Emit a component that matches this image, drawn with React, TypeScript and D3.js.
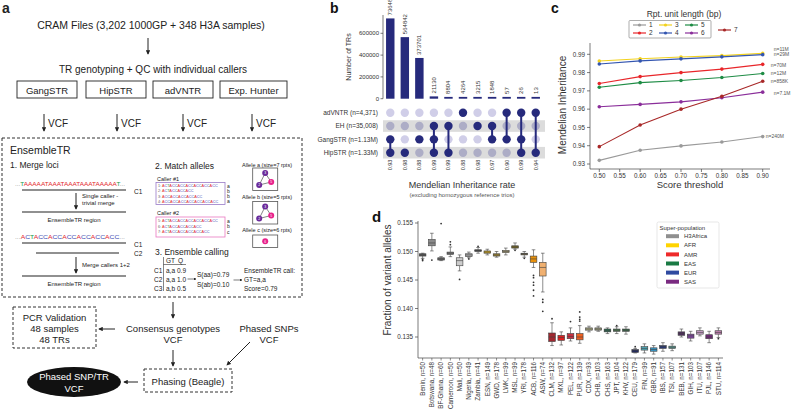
import React from 'react';
import * as d3 from 'd3';

const FONT = '"Liberation Sans", Arial, Helvetica, sans-serif';

// ---------- panel b: upset of callers ----------
const bCallers = ['adVNTR (n=4,371)', 'EH (n=35,008)', 'GangSTR (n=1.13M)', 'HipSTR (n=1.33M)'];
const bCounts = [736485, 564842, 373701, 21130, 8804, 4264, 3215, 1848, 57, 26, 13];
const bSets = [[2, 3], [3], [2], [1, 2, 3], [1, 3], [0], [1], [1, 2], [0, 2], [0, 2, 3], [0, 3]];
const bRates = ['0.93', '0.98', '0.88', '0.99', '0.99', '0.88', '0.98', '0.97', '0.90', '0.99', '0.94'];
const bYTicks = [0, 200000, 400000, 600000];

// ---------- panel c: MI vs score threshold ----------
const cThresholds = [0.5, 0.6, 0.7, 0.8, 0.9];
const cUnits = ['1', '2', '3', '4', '5', '6', '7'];
const cValues = [
  [0.932, 0.9375, 0.9399, 0.942, 0.945],
  [0.974, 0.9778, 0.98, 0.9819, 0.9845],
  [0.9863, 0.9876, 0.9885, 0.9893, 0.9905],
  [0.9847, 0.9864, 0.9875, 0.9886, 0.9898],
  [0.972, 0.9745, 0.9757, 0.9773, 0.9795],
  [0.9613, 0.9626, 0.964, 0.9662, 0.9693],
  [0.9395, 0.9513, 0.96, 0.967, 0.9753],
];
const cCounts = ['n=240M', 'n=70M', 'n=11M', 'n=29M', 'n=12M', 'n=7.1M', 'n=858K'];
const cXTicks = [0.5, 0.55, 0.6, 0.65, 0.7, 0.75, 0.8, 0.85, 0.9];
const cYTicks = [0.93, 0.94, 0.95, 0.96, 0.97, 0.98, 0.99];

// ---------- panel d: fraction of variant alleles ----------
const dPops = ['Benin', 'Botswana', 'BF-Ghana', 'Cameroon', 'Mali', 'Nigeria', 'Zambia', 'ESN', 'GWD', 'LWK', 'MSL',
  'YRI', 'ACB', 'ASW', 'CLM', 'MXL', 'PEL', 'PUR', 'CDX', 'CHB', 'CHS', 'JPT', 'KHV', 'CEU', 'FIN', 'GBR', 'IBS',
  'TSI', 'BEB', 'GIH', 'ITU', 'PJL', 'STU'];
const dSizes = [50, 48, 60, 50, 50, 49, 41, 149, 178, 99, 99, 178, 116, 74, 132, 97, 122, 139, 93, 103, 163, 104, 122,
  179, 99, 91, 157, 107, 131, 103, 107, 146, 114];
// [whisker low, q1, median, q3, whisker high]
const dStats = [
  [0.1488, 0.1492, 0.1494, 0.1496, 0.1497],
  [0.1501, 0.151, 0.1515, 0.1521, 0.1532],
  [0.1484, 0.1485, 0.1487, 0.1489, 0.1491],
  [0.1491, 0.1495, 0.1497, 0.1499, 0.1508],
  [0.1466, 0.1475, 0.1484, 0.1489, 0.1494],
  [0.1489, 0.1491, 0.1494, 0.1496, 0.1499],
  [0.1497, 0.15, 0.1502, 0.1503, 0.1507],
  [0.1494, 0.1497, 0.1499, 0.1501, 0.1504],
  [0.149, 0.1492, 0.1494, 0.1496, 0.15],
  [0.1494, 0.1498, 0.15, 0.1502, 0.1506],
  [0.1504, 0.1506, 0.1508, 0.151, 0.1515],
  [0.149, 0.1494, 0.1496, 0.1497, 0.15],
  [0.1472, 0.1481, 0.1487, 0.1492, 0.1503],
  [0.1429, 0.1457, 0.1472, 0.1481, 0.1497],
  [0.1335, 0.1342, 0.135, 0.1357, 0.1375],
  [0.1336, 0.1344, 0.1349, 0.1353, 0.1359],
  [0.1343, 0.1347, 0.1351, 0.1356, 0.1366],
  [0.1339, 0.1345, 0.135, 0.1356, 0.137],
  [0.1359, 0.1362, 0.1364, 0.1366, 0.1369],
  [0.136, 0.1362, 0.1364, 0.1366, 0.1369],
  [0.1356, 0.1359, 0.1361, 0.1364, 0.1366],
  [0.1356, 0.136, 0.1362, 0.1364, 0.1368],
  [0.1355, 0.136, 0.1362, 0.1364, 0.1368],
  [0.1322, 0.1323, 0.1326, 0.1328, 0.133],
  [0.1322, 0.1327, 0.133, 0.1333, 0.1338],
  [0.132, 0.1325, 0.1328, 0.1331, 0.1335],
  [0.1325, 0.133, 0.1333, 0.1335, 0.134],
  [0.1326, 0.133, 0.1332, 0.1334, 0.1338],
  [0.135, 0.1353, 0.1356, 0.1359, 0.1364],
  [0.1343, 0.1348, 0.1352, 0.1355, 0.136],
  [0.1352, 0.1355, 0.1358, 0.1361, 0.1366],
  [0.134, 0.1347, 0.135, 0.1354, 0.136],
  [0.1349, 0.1355, 0.1358, 0.1361, 0.1366],
];
const dOutliers = [
  [0.1484, 0.1486], [0.1485], [0.1549], [0.1512, 0.1517], [0.1451], [0.1487], [0.1509], [], [], [], [0.1502],
  [0.1488], [0.1458, 0.1454, 0.1446, 0.1441, 0.1432, 0.1422], [0.1416, 0.1411, 0.1395], [0.1382], [], [0.1377],
  [0.1378, 0.1381, 0.1385, 0.1394], [], [], [], [0.137], [], [0.1333], [], [], [], [], [], [], [], [], [0.1347],
];
const dSuper = ['H3Africa', 'AFR', 'AMR', 'EAS', 'EUR', 'SAS'];
const dYTicks = [0.135, 0.14, 0.145, 0.15, 0.155];

// styles
const cColors = ['#9a9a9a', '#e8262a', '#f2d21e', '#3355b0', '#1e8c45', '#8a2e9a', '#a82828'];
const dSuperColors = ['#8f8f8f', '#ffd400', '#ee2a2a', '#1a7a44', '#2f4aa0', '#7a2a80'];
const dColors = ['#5a5a5a', '#8a8a8a', '#6a6a6a', '#7a7a7a', '#cccccc', '#ababab', '#4a4a4a',
  '#d0a820', '#a88c30', '#c8b880', '#7a6a20', '#6a6040', '#e8900a', '#f0b070',
  '#a02830', '#e02020', '#c83040', '#f06020',
  '#b4b488', '#a4a484', '#2a6a50', '#4a7a50', '#3a6a4a',
  '#202860', '#50a8b8', '#3898c8', '#283878', '#58a098',
  '#503060', '#8048a0', '#c8a0c8', '#702878', '#c080b0'];
const NAVY = '#262a7c';

const seqColor: Record<string, string> = { A: '#e3262b', C: '#3c4cb4', T: '#1a9a48', '.': '#888' };

const Seq = ({ x, y, s, size, len }: { x: number; y: number; s: string; size: number; len: number }) => (
  <text x={x} y={y} fontSize={size} textLength={len} lengthAdjust="spacingAndGlyphs">
    {s.split('').map((ch, i) => (
      <tspan key={i} fill={seqColor[ch] ?? '#777'}>{ch}</tspan>
    ))}
  </text>
);

const Arrow = ({ x1, y1, x2, y2 }: { x1: number; y1: number; x2: number; y2: number }) => (
  <line x1={x1} y1={y1} x2={x2} y2={y2} stroke="#222" strokeWidth={1} markerEnd="url(#ah)" />
);

const AlleleGraph = ({ x, y, full }: { x: number; y: number; full: boolean }) => {
  const nodes = [
    { dx: 12.5, dy: 5, c: '#6a2a9a', t: '3' },
    { dx: 6.5, dy: 17, c: '#6a2a9a', t: '2' },
    { dx: 18.5, dy: 14, c: '#e8208a', t: '5' },
  ];
  if (!full) {
    return (
      <g>
        <rect x={x} y={y} width={25} height={12.5} fill="#fff" stroke="#555" strokeWidth={0.8} />
        <circle cx={x + 12.5} cy={y + 6.3} r={3} fill="#e8208a" />
        <text x={x + 12.5} y={y + 7.5} fontSize={3.5} fill="#fff" textAnchor="middle">6</text>
      </g>
    );
  }
  return (
    <g>
      <rect x={x} y={y} width={25} height={22.5} fill="#fff" stroke="#555" strokeWidth={0.8} />
      {[[0, 1], [0, 2], [1, 2]].map(([a, b], i) => (
        <line key={i} x1={x + nodes[a].dx} y1={y + nodes[a].dy} x2={x + nodes[b].dx} y2={y + nodes[b].dy}
          stroke="#333" strokeWidth={0.6} />
      ))}
      {nodes.map((n, i) => (
        <g key={i}>
          <circle cx={x + n.dx} cy={y + n.dy} r={3} fill={n.c} />
          <text x={x + n.dx} y={y + n.dy + 1.2} fontSize={3.5} fill="#fff" textAnchor="middle">{n.t}</text>
        </g>
      ))}
    </g>
  );
};

const PanelA = () => {
  const callers = [
    { name: 'GangSTR', x0: 17, x1: 77 },
    { name: 'HipSTR', x0: 86, x1: 146 },
    { name: 'adVNTR', x0: 153, x1: 213 },
    { name: 'Exp. Hunter', x0: 220, x1: 287 },
  ];
  const vcfX = [44, 117, 183, 252];
  const caller1 = [['1: ', 'ACTACCACCACCACCACCACC', 'a'], ['2: ', 'ACTACCACCACC', 'b'], ['3: ', 'ACCACCACCACCACC', 'b'],
    ['4: ', 'ACCACCACCACCACCACCACC', 'a']];
  const caller2 = [['5: ', 'ACTACCACCACCACCACCACC', 'a'], ['6: ', 'ACTACCACCACCACC', 'b'], ['7: ', 'ACTACCACCACCACCACC', 'c']];
  return (
    <g fill="#222">
      <text x={2} y={13} fontSize={14} fontWeight="bold">a</text>
      <text x={151} y={29} fontSize={10.5} textAnchor="middle">CRAM Files (3,202 1000GP + 348 H3A samples)</text>
      <Arrow x1={148} y1={38} x2={148} y2={54} />
      <text x={153} y={73} fontSize={10} textAnchor="middle">TR genotyping + QC with individual callers</text>
      {callers.map(c => (
        <g key={c.name}>
          <rect x={c.x0} y={81} width={c.x1 - c.x0} height={17} fill="none" stroke="#222" strokeWidth={0.9} />
          <text x={(c.x0 + c.x1) / 2} y={93.5} fontSize={9.5} textAnchor="middle">{c.name}</text>
        </g>
      ))}
      {vcfX.map(x => (
        <g key={x}>
          <Arrow x1={x} y1={114} x2={x} y2={131} />
          <text x={x + 4} y={127} fontSize={10}>VCF</text>
        </g>
      ))}
      <rect x={2} y={138} width={300} height={159} fill="none" stroke="#333" strokeWidth={1} strokeDasharray="3,2" />
      <text x={10} y={154} fontSize={10.5}>EnsembleTR</text>
      <text x={10} y={168} fontSize={8.5}>1. Merge loci</text>
      <text x={15} y={186} fontSize={6.1} textLength={110} lengthAdjust="spacingAndGlyphs">
        <tspan fill="#888">...</tspan><tspan fill="#1a9a48">T</tspan>
        <tspan fill="#e3262b">AAAAATAAATAAATAAATAAAAA</tspan><tspan fill="#1a9a48">T</tspan><tspan fill="#888">...</tspan>
      </text>
      <line x1={22} y1={190} x2={126} y2={190} stroke="#222" strokeWidth={1.2} />
      <text x={134} y={194} fontSize={6.5}>C1</text>
      <Arrow x1={76} y1={193} x2={76} y2={209} />
      <text x={82} y={198} fontSize={6}>Single caller -</text>
      <text x={82} y={205} fontSize={6}>trivial merge</text>
      <line x1={22} y1={212} x2={126} y2={212} stroke="#222" strokeWidth={1.2} />
      <text x={74} y={222} fontSize={6} textAnchor="middle">EnsembleTR region</text>
      <Seq x={15} y={239} s="...ACTACCACCACCACCACCACC..." size={6.1} len={110} />
      <line x1={22} y1={243} x2={126} y2={243} stroke="#222" strokeWidth={1.2} />
      <text x={134} y={247} fontSize={6.5}>C1</text>
      <line x1={36} y1={253} x2={119} y2={253} stroke="#222" strokeWidth={1.2} />
      <text x={134} y={256} fontSize={6.5}>C2</text>
      <Arrow x1={76} y1={257} x2={76} y2={273} />
      <text x={82} y={267} fontSize={6}>Merge callers 1+2</text>
      <line x1={22} y1={276} x2={126} y2={276} stroke="#222" strokeWidth={1.2} />
      <text x={74} y={286} fontSize={6} textAnchor="middle">EnsembleTR region</text>

      <text x={155} y={169} fontSize={8.5}>2. Match alleles</text>
      <text x={157} y={181} fontSize={5.5}>Caller #1</text>
      <rect x={156} y={182.5} width={69} height={22} fill="#fff" stroke="#9a7ac8" strokeWidth={0.8} />
      {caller1.map((r, i) => (
        <g key={i}>
          <text x={158} y={187 + i * 5.3} fontSize={3.8}>
            <tspan fill="#666">{r[0]}</tspan>
            {r[1].split('').map((ch, j) => <tspan key={j} fill={seqColor[ch]}>{ch}</tspan>)}
          </text>
          <text x={227} y={187.5 + i * 5.3} fontSize={5}>{r[2]}</text>
        </g>
      ))}
      <text x={157} y={215} fontSize={5.5}>Caller #2</text>
      <rect x={156} y={217} width={69} height={20} fill="#fff" stroke="#e878c0" strokeWidth={0.8} />
      {caller2.map((r, i) => (
        <g key={i}>
          <text x={158} y={222 + i * 5.5} fontSize={3.8}>
            <tspan fill="#666">{r[0]}</tspan>
            {r[1].split('').map((ch, j) => <tspan key={j} fill={seqColor[ch]}>{ch}</tspan>)}
          </text>
          <text x={227} y={222.5 + i * 5.5} fontSize={5}>{r[2]}</text>
        </g>
      ))}
      <text x={267} y={166.5} fontSize={5.5} textAnchor="middle">Allele a (size=7 rpts)</text>
      <AlleleGraph x={252.7} y={168} full />
      <text x={267} y={199} fontSize={5.5} textAnchor="middle">Allele b (size=5 rpts)</text>
      <AlleleGraph x={252.7} y={201.5} full />
      <text x={267} y={232} fontSize={5.5} textAnchor="middle">Allele c (size=6 rpts)</text>
      <AlleleGraph x={252.7} y={235} full={false} />

      <text x={155} y={255} fontSize={8.5}>3. Ensemble calling</text>
      <g fontSize={6.5}>
        <text x={166} y={263}>GT</text>
        <text x={178} y={263}>Q</text>
        <line x1={163.5} y1={264.5} x2={186} y2={264.5} stroke="#333" strokeWidth={0.6} />
        <line x1={163.5} y1={257} x2={163.5} y2={291} stroke="#333" strokeWidth={0.6} />
        {[['C1', 'a,a', '0.9'], ['C2', 'a,a', '1.0'], ['C3', 'a,b', '0.5']].map((r, i) => (
          <g key={i}>
            <text x={154} y={272.5 + i * 9}>{r[0]}</text>
            <text x={166} y={272.5 + i * 9}>{r[1]}</text>
            <text x={177} y={272.5 + i * 9}>{r[2]}</text>
          </g>
        ))}
        <line x1={187.5} y1={279} x2={196} y2={279} stroke="#222" strokeWidth={0.6} markerEnd="url(#ah)" />
        <text x={197} y={277}>S(aa)=0.79</text>
        <text x={197} y={286.5}>S(ab)=0.10</text>
        <line x1={233.5} y1={280} x2={242} y2={280} stroke="#222" strokeWidth={0.6} markerEnd="url(#ah)" />
        <text x={244} y={272.5}>EnsembleTR call:</text>
        <text x={244} y={281.5}>GT=a,a</text>
        <text x={244} y={290.5}>Score=0.79</text>
      </g>

      <Arrow x1={173} y1={302} x2={173} y2={318} />
      <rect x={13} y={307} width={83} height={41} fill="none" stroke="#333" strokeWidth={1} strokeDasharray="3,2" />
      <text x={54.5} y={320.5} fontSize={9.5} textAnchor="middle">PCR Validation</text>
      <text x={54.5} y={331.5} fontSize={9.5} textAnchor="middle">48 samples</text>
      <text x={54.5} y={342.5} fontSize={9.5} textAnchor="middle">48 TRs</text>
      <Arrow x1={115} y1={329} x2={99} y2={329} />
      <text x={173} y={331.5} fontSize={9.5} textAnchor="middle">Consensus genotypes</text>
      <text x={173} y={343} fontSize={9.5} textAnchor="middle">VCF</text>
      <text x={269} y={331.5} fontSize={9.5} textAnchor="middle">Phased SNPs</text>
      <text x={269} y={343} fontSize={9.5} textAnchor="middle">VCF</text>
      <Arrow x1={173} y1={350} x2={173} y2={366} />
      <Arrow x1={250} y1={342} x2={227} y2={365} />
      <rect x={144} y={369} width={88} height={23} fill="none" stroke="#333" strokeWidth={1} strokeDasharray="3,2" />
      <text x={188} y={384.5} fontSize={9.5} textAnchor="middle">Phasing (Beagle)</text>
      <Arrow x1={138} y1={382} x2={124} y2={382} />
      <ellipse cx={74} cy={382} rx={47} ry={15} fill="#111" />
      <text x={74} y={380} fontSize={9.5} fill="#fff" textAnchor="middle">Phased SNP/TR</text>
      <text x={74} y={391.5} fontSize={9.5} fill="#fff" textAnchor="middle">VCF</text>
    </g>
  );
};

const PanelB = () => {
  const x = d3.scaleBand<number>().domain(d3.range(bCounts.length)).range([383, 543]).paddingInner(0.42).paddingOuter(0.21);
  const y = d3.scaleLinear().domain([0, 600000]).range([98.7, 33.3]);
  const row = d3.scalePoint<number>().domain(d3.range(bCallers.length)).range([112.7, 152.7]);
  const bw = x.bandwidth();
  const cx = (i: number) => (x(i) ?? 0) + bw / 2;
  return (
    <g fill="#333">
      <text x={330} y={13} fontSize={14} fontWeight="bold" fill="#111">b</text>
      <line x1={383} x2={383} y1={15} y2={y(0)} stroke="#444" strokeWidth={0.7} />
      {bYTicks.map(t => (
        <g key={t}>
          <line x1={380.5} x2={383} y1={y(t)} y2={y(t)} stroke="#444" strokeWidth={0.7} />
          <text x={379} y={y(t)} dy="0.35em" fontSize={6} textAnchor="end">{t}</text>
        </g>
      ))}
      <text transform={`translate(351,57) rotate(-90)`} fontSize={7} textAnchor="middle">Number of TRs</text>
      {bCounts.map((v, i) => (
        <g key={i}>
          <rect x={x(i)} y={Math.min(y(v), y(0) - 1.8)} width={bw} height={Math.max(y(0) - y(v), 1.8)} fill={NAVY} />
          <text transform={`translate(${cx(i) + 2},${Math.min(y(v), y(0) - 1.8) - 3}) rotate(-90)`} fontSize={6}>{v}</text>
        </g>
      ))}
      {[1, 3].map(r => (
        <rect key={r} x={383} y={(row(r) ?? 0) - 5.8} width={162} height={11.6} fill="#dcdcdc" />
      ))}
      {bCallers.map((c, r) => (
        <text key={c} x={378} y={row(r)} dy="0.35em" fontSize={6.5} textAnchor="end">{c}</text>
      ))}
      {bSets.map((s, i) => (
        <g key={i}>
          {bCallers.map((_, r) => (
            <circle key={r} cx={cx(i)} cy={row(r)} r={4.2}
              fill={s.includes(r) ? NAVY : r % 2 === 1 ? '#adadc6' : '#d0cee8'} />
          ))}
          {s.length > 1 && (
            <line x1={cx(i)} x2={cx(i)} y1={row(d3.min(s)!)} y2={row(d3.max(s)!)} stroke={NAVY} strokeWidth={2} />
          )}
        </g>
      ))}
      {bRates.map((r, i) => (
        <text key={i} transform={`translate(${cx(i) + 2},165) rotate(-90)`} fontSize={5.5} textAnchor="middle">{r}</text>
      ))}
      <text x={462} y={188} fontSize={9} textAnchor="middle">Mendelian Inheritance rate</text>
      <text x={462} y={196.5} fontSize={6} textAnchor="middle" fill="#555">(excluding homozygous reference trios)</text>
    </g>
  );
};

const PanelC = () => {
  const x = d3.scaleLinear().domain([0.5, 0.9]).range([599.3, 762.7]);
  const y = d3.scaleLinear().domain([0.93, 0.99]).range([164, 54.3]);
  const line = d3.line<number>().x((_, i) => x(cThresholds[i])).y(v => y(v));
  const labelDy = [0, 0.5, -4.5, 0, 0, 1, 0.5];
  const labelDx = [3, 8, 11, 11, 8, 11, 8];
  return (
    <g fill="#333">
      <text x={551} y={13} fontSize={14} fontWeight="bold" fill="#111">c</text>
      <text x={684} y={16.5} fontSize={8.5} textAnchor="middle">Rpt. unit length (bp)</text>
      <rect x={629} y={20.5} width={82} height={17.5} fill="#fff" stroke="#777" strokeWidth={0.6} rx={1} />
      {cUnits.map((u, i) => {
        const lx = i < 6 ? 633 + Math.floor(i / 2) * 26 : 718;
        const ly = i < 6 ? 25 + (i % 2) * 8 : 30;
        return (
          <g key={u}>
            <line x1={lx} x2={lx + 13} y1={ly} y2={ly} stroke={cColors[i]} strokeWidth={1.2} />
            <circle cx={lx + 6.5} cy={ly} r={1.6} fill={cColors[i]} />
            <text x={lx + 16} y={ly} dy="0.35em" fontSize={6.5}>{u}</text>
          </g>
        );
      })}
      <line x1={590} x2={590} y1={43} y2={169} stroke="#444" strokeWidth={0.7} />
      <line x1={590} x2={770} y1={169} y2={169} stroke="#444" strokeWidth={0.7} />
      {cYTicks.map(t => (
        <g key={t}>
          <line x1={587} x2={590} y1={y(t)} y2={y(t)} stroke="#444" strokeWidth={0.7} />
          <text x={585} y={y(t)} dy="0.35em" fontSize={6.3} textAnchor="end">{t.toFixed(2)}</text>
        </g>
      ))}
      {cXTicks.map(t => (
        <g key={t}>
          <line x1={x(t)} x2={x(t)} y1={169} y2={172} stroke="#444" strokeWidth={0.7} />
          <text x={x(t)} y={178} fontSize={6.3} textAnchor="middle">{t.toFixed(2)}</text>
        </g>
      ))}
      <text transform="translate(566,105) rotate(-90)" fontSize={10} textAnchor="middle">Mendelian Inheritance</text>
      <text x={690} y={187.5} fontSize={9.5} textAnchor="middle">Score threshold</text>
      {cValues.map((vals, s) => (
        <g key={s}>
          <path d={line(vals) ?? ''} fill="none" stroke={cColors[s]} strokeWidth={1.1} />
          {vals.map((v, i) => (
            <circle key={i} cx={x(cThresholds[i])} cy={y(v)} r={1.8} fill={cColors[s]} />
          ))}
          <text x={x(0.9) + labelDx[s]} y={y(vals[4]) + labelDy[s]} dy="0.35em" fontSize={5} fill="#555">{cCounts[s]}</text>
        </g>
      ))}
    </g>
  );
};

const PanelD = () => {
  const x = d3.scaleBand<string>().domain(dPops).range([418, 723]);
  const y = d3.scaleLinear().domain([0.135, 0.155]).range([337, 223]);
  const bw = x.bandwidth();
  const boxW = bw * 0.72;
  const edge = '#404040';
  return (
    <g fill="#333">
      <text x={372} y={222} fontSize={15} fontWeight="bold" fill="#111">d</text>
      <line x1={418} x2={418} y1={221} y2={358} stroke="#444" strokeWidth={0.7} />
      <line x1={418} x2={723} y1={358} y2={358} stroke="#444" strokeWidth={0.7} />
      {dYTicks.map(t => (
        <g key={t}>
          <line x1={415} x2={418} y1={y(t)} y2={y(t)} stroke="#444" strokeWidth={0.7} />
          <text x={413} y={y(t)} dy="0.35em" fontSize={6.3} textAnchor="end">{t.toFixed(3)}</text>
        </g>
      ))}
      <text transform="translate(391,280) rotate(-90)" fontSize={10} textAnchor="middle">Fraction of variant alleles</text>
      {dPops.map((p, i) => {
        const c = (x(p) ?? 0) + bw / 2;
        const [lo, q1, md, q3, hi] = dStats[i];
        return (
          <g key={p}>
            <line x1={c} x2={c} y1={y(hi)} y2={y(q3)} stroke={edge} strokeWidth={0.6} />
            <line x1={c} x2={c} y1={y(q1)} y2={y(lo)} stroke={edge} strokeWidth={0.6} />
            <line x1={c - 1.8} x2={c + 1.8} y1={y(hi)} y2={y(hi)} stroke={edge} strokeWidth={0.6} />
            <line x1={c - 1.8} x2={c + 1.8} y1={y(lo)} y2={y(lo)} stroke={edge} strokeWidth={0.6} />
            <rect x={c - boxW / 2} y={y(q3)} width={boxW} height={Math.max(y(q1) - y(q3), 1)} fill={dColors[i]}
              stroke={edge} strokeWidth={0.6} />
            <line x1={c - boxW / 2} x2={c + boxW / 2} y1={y(md)} y2={y(md)} stroke={edge} strokeWidth={0.6} />
            {dOutliers[i].map((o, k) => (
              <circle key={k} cx={c} cy={y(o)} r={0.9} fill="#333" />
            ))}
            <line x1={c} x2={c} y1={358} y2={360.5} stroke="#444" strokeWidth={0.6} />
            <text transform={`translate(${c + 2.2},362) rotate(-90)`} fontSize={6.3} textAnchor="end">{`${p}, n=${dSizes[i]}`}</text>
          </g>
        );
      })}
      <rect x={657} y={222} width={62} height={66} fill="#fff" stroke="#ddd" strokeWidth={0.7} rx={1.5} />
      <text x={659.5} y={229.5} fontSize={6}>Super-population</text>
      {dSuper.map((s, i) => (
        <g key={s}>
          <rect x={666} y={234.2 + i * 9.1} width={13} height={4} fill={dSuperColors[i]} />
          <text x={684} y={236.2 + i * 9.1} dy="0.35em" fontSize={6}>{s}</text>
        </g>
      ))}
    </g>
  );
};

export default function App() {
  return (
    <div style={{ position: 'absolute', left: 0, top: 0 }}>
      <svg width={800} height={419} style={{ display: 'block', fontFamily: FONT }}>
        <defs>
          <marker id="ah" viewBox="0 0 6 6" refX="5" refY="3" markerWidth="4.5" markerHeight="4.5"
            orient="auto-start-reverse">
            <path d="M0,0L6,3L0,6z" fill="#222" />
          </marker>
        </defs>
        <rect width={800} height={419} fill="#fff" />
        <PanelA />
        <PanelB />
        <PanelC />
        <PanelD />
      </svg>
    </div>
  );
}
